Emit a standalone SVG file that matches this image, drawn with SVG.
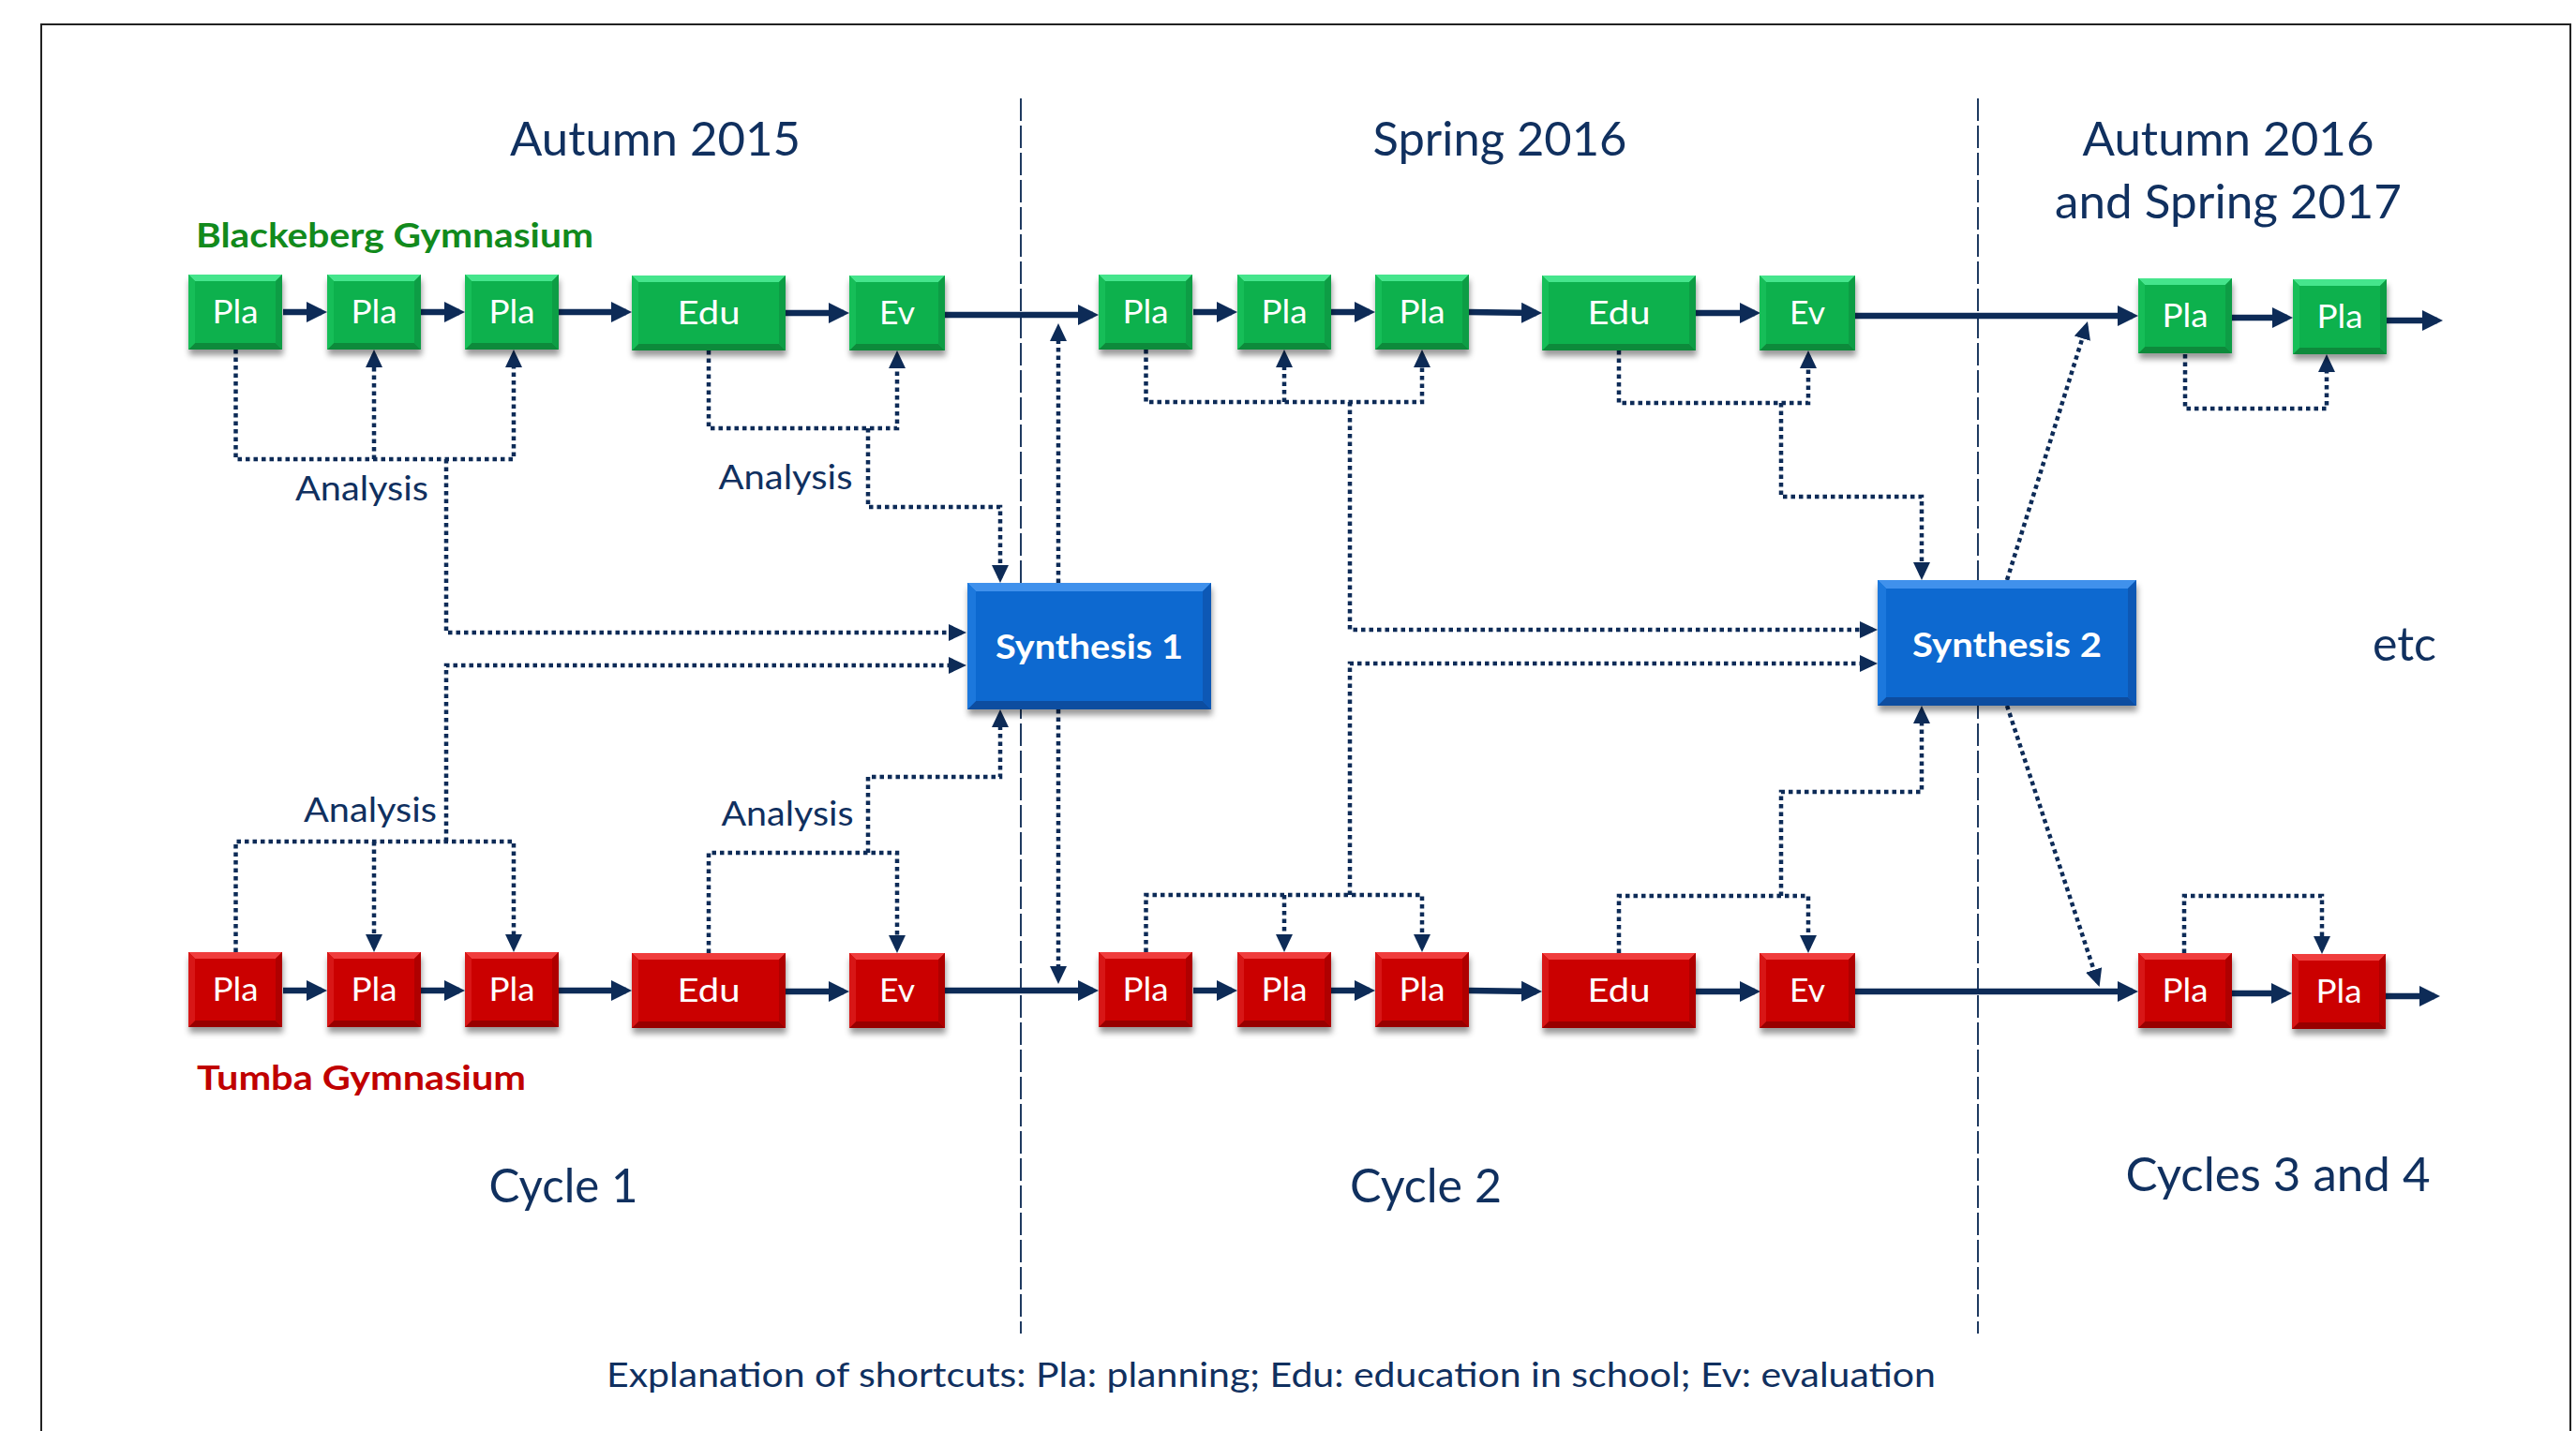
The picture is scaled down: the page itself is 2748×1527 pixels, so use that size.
<svg xmlns="http://www.w3.org/2000/svg" width="2748" height="1527" viewBox="0 0 2748 1527">
<style>
text{font-family:Lato,"Liberation Sans",sans-serif}
.head{font-size:50px;fill:#10305F;text-anchor:middle}
.an{font-size:36px;fill:#10305F;text-anchor:middle}
.bx{font-size:34px;fill:#fff;text-anchor:middle}
.syn{font-size:36px;font-weight:bold;fill:#fff;text-anchor:middle}
.lg{font-size:36px;font-weight:bold;fill:#128A1C}
.lr{font-size:36px;font-weight:bold;fill:#C00000}
.exp{font-size:37px;fill:#10305F;text-anchor:middle}
.gm{fill:#10B14E}.gt{fill:#45E58C}.gb{fill:#0A8A3B}.gl{fill:#19BE58}.gr{fill:#0A9D45}
.rm{fill:#CB0000}.rt{fill:#F03E3E}.rb{fill:#980000}.rl{fill:#D81212}.rr{fill:#AF0000}
.bm{fill:#0A69D0}.bt{fill:#3F91EC}.bb{fill:#0A4EA0}.bl{fill:#1A78DD}.br{fill:#0859B5}
.main{fill:none;stroke:#0D2B57;stroke-width:6.5;marker-end:url(#ah)}
.dota{fill:none;stroke:#0D2B57;stroke-width:4.5;stroke-dasharray:4.5 4;marker-end:url(#dh)}
.sep{stroke:#1F3A60;stroke-width:2;stroke-dasharray:24 5}
</style>
<defs>
<filter id="sh" x="-10%" y="-10%" width="130%" height="140%">
<feDropShadow dx="1" dy="6" stdDeviation="3" flood-color="#000" flood-opacity="0.4"/>
</filter>
<marker id="ah" markerUnits="userSpaceOnUse" markerWidth="24" markerHeight="24" viewBox="0 0 24 24" refX="16" refY="11" orient="auto"><path d="M0 0L22 11L0 22Z" fill="#0D2B57"/></marker>
<marker id="dh" markerUnits="userSpaceOnUse" markerWidth="20" markerHeight="20" viewBox="0 0 20 20" refX="14" refY="9" orient="auto"><path d="M0 0L19 9L0 18Z" fill="#0D2B57"/></marker>
<g id="gPla"><rect width="100" height="80" class="gm"/><path class="gt" d="M0 0H100L93 7H7Z"/><path class="gb" d="M0 80H100L93 73H7Z"/><path class="gl" d="M0 0L7 7V73L0 80Z"/><path class="gr" d="M100 0L93 7V73L100 80Z"/></g>
<g id="gEdu"><rect width="164" height="80" class="gm"/><path class="gt" d="M0 0H164L157 7H7Z"/><path class="gb" d="M0 80H164L157 73H7Z"/><path class="gl" d="M0 0L7 7V73L0 80Z"/><path class="gr" d="M164 0L157 7V73L164 80Z"/></g>
<g id="gEv"><rect width="102" height="80" class="gm"/><path class="gt" d="M0 0H102L95 7H7Z"/><path class="gb" d="M0 80H102L95 73H7Z"/><path class="gl" d="M0 0L7 7V73L0 80Z"/><path class="gr" d="M102 0L95 7V73L102 80Z"/></g>
<g id="rPla"><rect width="100" height="80" class="rm"/><path class="rt" d="M0 0H100L93 7H7Z"/><path class="rb" d="M0 80H100L93 73H7Z"/><path class="rl" d="M0 0L7 7V73L0 80Z"/><path class="rr" d="M100 0L93 7V73L100 80Z"/></g>
<g id="rEdu"><rect width="164" height="80" class="rm"/><path class="rt" d="M0 0H164L157 7H7Z"/><path class="rb" d="M0 80H164L157 73H7Z"/><path class="rl" d="M0 0L7 7V73L0 80Z"/><path class="rr" d="M164 0L157 7V73L164 80Z"/></g>
<g id="rEv"><rect width="102" height="80" class="rm"/><path class="rt" d="M0 0H102L95 7H7Z"/><path class="rb" d="M0 80H102L95 73H7Z"/><path class="rl" d="M0 0L7 7V73L0 80Z"/><path class="rr" d="M102 0L95 7V73L102 80Z"/></g>
</defs>
<rect width="2748" height="1527" fill="#fff"/>
<rect x="44" y="26" width="2698" height="1600" fill="none" stroke="#222" stroke-width="2"/>

<g id="separators">
<line class="sep" x1="1089" y1="105" x2="1089" y2="1423"/>
<line class="sep" x1="2110" y1="105" x2="2110" y2="1423"/>
</g>

<g id="labels">
<text class="head" x="699" y="166" textLength="310" lengthAdjust="spacingAndGlyphs">Autumn 2015</text>
<text class="head" x="1600" y="166" textLength="271" lengthAdjust="spacingAndGlyphs">Spring 2016</text>
<text class="head" x="2377" y="166" textLength="311" lengthAdjust="spacingAndGlyphs">Autumn 2016</text>
<text class="head" x="2377" y="233" textLength="370" lengthAdjust="spacingAndGlyphs">and Spring 2017</text>
<text class="lg" x="209" y="264" textLength="424" lengthAdjust="spacingAndGlyphs">Blackeberg Gymnasium</text>
<text class="lr" x="210" y="1163" textLength="351" lengthAdjust="spacingAndGlyphs">Tumba Gymnasium</text>
<text class="head" x="601" y="1283" textLength="159" lengthAdjust="spacingAndGlyphs">Cycle 1</text>
<text class="head" x="1521" y="1283" textLength="162" lengthAdjust="spacingAndGlyphs">Cycle 2</text>
<text class="head" x="2430" y="1271" textLength="325" lengthAdjust="spacingAndGlyphs">Cycles 3 and 4</text>
<text class="head" x="2565" y="705" textLength="68" lengthAdjust="spacingAndGlyphs">etc</text>
<text class="an" x="386" y="534" textLength="142" lengthAdjust="spacingAndGlyphs">Analysis</text>
<text class="an" x="838" y="522" textLength="143" lengthAdjust="spacingAndGlyphs">Analysis</text>
<text class="an" x="395" y="877" textLength="142" lengthAdjust="spacingAndGlyphs">Analysis</text>
<text class="an" x="840" y="881" textLength="141" lengthAdjust="spacingAndGlyphs">Analysis</text>
<text class="exp" x="1356" y="1480" textLength="1418" lengthAdjust="spacingAndGlyphs">Explanation of shortcuts: Pla: planning; Edu: education in school; Ev: evaluation</text>
</g>

<g id="connectors">
<path class="main" d="M302 333H343"/>
<path class="main" d="M449 333H490"/>
<path class="main" d="M596 333H668"/>
<path class="main" d="M838 334H900"/>
<path class="main" d="M1008 336H1166"/>
<path class="main" d="M1273 333H1314"/>
<path class="main" d="M1420 333H1461"/>
<path class="main" d="M1567 333L1639 334"/>
<path class="main" d="M1809 334H1872"/>
<path class="main" d="M1979 337H2275"/>
<path class="main" d="M2381 339H2440"/>
<path class="main" d="M2546 342H2600"/>
<path class="main" d="M302 1057H343"/>
<path class="main" d="M449 1057H490"/>
<path class="main" d="M596 1057H668"/>
<path class="main" d="M838 1058H900"/>
<path class="main" d="M1008 1057H1166"/>
<path class="main" d="M1273 1057H1314"/>
<path class="main" d="M1420 1057H1461"/>
<path class="main" d="M1567 1057L1639 1058"/>
<path class="main" d="M1809 1058H1872"/>
<path class="main" d="M1979 1058H2275"/>
<path class="main" d="M2381 1060H2439"/>
<path class="main" d="M2545 1063H2597"/>

<path class="dota" d="M251.5 373V490H548V378"/>
<path class="dota" d="M399 490V378"/>
<path class="dota" d="M476 490V675H1026"/>
<path class="dota" d="M476 898V710H1026"/>
<path class="dota" d="M251.5 1016V898H548V1011"/>
<path class="dota" d="M399 898V1011"/>
<path class="dota" d="M756 374V457H957V379"/>
<path class="dota" d="M926 457V541H1067V617"/>
<path class="dota" d="M756 1017V910H957V1012"/>
<path class="dota" d="M926 910V829H1067V762"/>
<path class="dota" d="M1129 622V350"/>
<path class="dota" d="M1129 757V1045"/>
<path class="dota" d="M1222.5 373V429H1517V378"/>
<path class="dota" d="M1370 429V378"/>
<path class="dota" d="M1440 429V672H1998"/>
<path class="dota" d="M1440 955V708H1998"/>
<path class="dota" d="M1222.5 1016V955H1517V1011"/>
<path class="dota" d="M1370 955V1011"/>
<path class="dota" d="M1727 374V430H1929V379"/>
<path class="dota" d="M1900 430V530H2050V614"/>
<path class="dota" d="M1727 1017V956H1929V1012"/>
<path class="dota" d="M1900 956V845H2050V758"/>
<path class="dota" d="M2141 619L2225.5 347.8"/>
<path class="dota" d="M2141 753L2238 1048.3"/>
<path class="dota" d="M2331 378V436H2482V383"/>
<path class="dota" d="M2330 1017V956H2477V1013"/>
</g>

<g id="bg-pla1"><use href="#gPla" x="201" y="293" filter="url(#sh)"/><text class="bx" x="251" y="345" textLength="49" lengthAdjust="spacingAndGlyphs">Pla</text></g>
<g id="bg-pla2"><use href="#gPla" x="349" y="293" filter="url(#sh)"/><text class="bx" x="399" y="345" textLength="49" lengthAdjust="spacingAndGlyphs">Pla</text></g>
<g id="bg-pla3"><use href="#gPla" x="496" y="293" filter="url(#sh)"/><text class="bx" x="546" y="345" textLength="49" lengthAdjust="spacingAndGlyphs">Pla</text></g>
<g id="bg-edu1"><use href="#gEdu" x="674" y="294" filter="url(#sh)"/><text class="bx" x="756" y="346" textLength="67" lengthAdjust="spacingAndGlyphs">Edu</text></g>
<g id="bg-ev1"><use href="#gEv" x="906" y="294" filter="url(#sh)"/><text class="bx" x="957" y="346" textLength="38" lengthAdjust="spacingAndGlyphs">Ev</text></g>
<g id="bg-pla4"><use href="#gPla" x="1172" y="293" filter="url(#sh)"/><text class="bx" x="1222" y="345" textLength="49" lengthAdjust="spacingAndGlyphs">Pla</text></g>
<g id="bg-pla5"><use href="#gPla" x="1320" y="293" filter="url(#sh)"/><text class="bx" x="1370" y="345" textLength="49" lengthAdjust="spacingAndGlyphs">Pla</text></g>
<g id="bg-pla6"><use href="#gPla" x="1467" y="293" filter="url(#sh)"/><text class="bx" x="1517" y="345" textLength="49" lengthAdjust="spacingAndGlyphs">Pla</text></g>
<g id="bg-edu2"><use href="#gEdu" x="1645" y="294" filter="url(#sh)"/><text class="bx" x="1727" y="346" textLength="67" lengthAdjust="spacingAndGlyphs">Edu</text></g>
<g id="bg-ev2"><use href="#gEv" x="1877" y="294" filter="url(#sh)"/><text class="bx" x="1928" y="346" textLength="38" lengthAdjust="spacingAndGlyphs">Ev</text></g>
<g id="bg-pla7"><use href="#gPla" x="2281" y="297" filter="url(#sh)"/><text class="bx" x="2331" y="349" textLength="49" lengthAdjust="spacingAndGlyphs">Pla</text></g>
<g id="bg-pla8"><use href="#gPla" x="2446" y="298" filter="url(#sh)"/><text class="bx" x="2496" y="350" textLength="49" lengthAdjust="spacingAndGlyphs">Pla</text></g>

<g id="tg-pla1"><use href="#rPla" x="201" y="1016" filter="url(#sh)"/><text class="bx" x="251" y="1068" textLength="49" lengthAdjust="spacingAndGlyphs">Pla</text></g>
<g id="tg-pla2"><use href="#rPla" x="349" y="1016" filter="url(#sh)"/><text class="bx" x="399" y="1068" textLength="49" lengthAdjust="spacingAndGlyphs">Pla</text></g>
<g id="tg-pla3"><use href="#rPla" x="496" y="1016" filter="url(#sh)"/><text class="bx" x="546" y="1068" textLength="49" lengthAdjust="spacingAndGlyphs">Pla</text></g>
<g id="tg-edu1"><use href="#rEdu" x="674" y="1017" filter="url(#sh)"/><text class="bx" x="756" y="1069" textLength="67" lengthAdjust="spacingAndGlyphs">Edu</text></g>
<g id="tg-ev1"><use href="#rEv" x="906" y="1017" filter="url(#sh)"/><text class="bx" x="957" y="1069" textLength="38" lengthAdjust="spacingAndGlyphs">Ev</text></g>
<g id="tg-pla4"><use href="#rPla" x="1172" y="1016" filter="url(#sh)"/><text class="bx" x="1222" y="1068" textLength="49" lengthAdjust="spacingAndGlyphs">Pla</text></g>
<g id="tg-pla5"><use href="#rPla" x="1320" y="1016" filter="url(#sh)"/><text class="bx" x="1370" y="1068" textLength="49" lengthAdjust="spacingAndGlyphs">Pla</text></g>
<g id="tg-pla6"><use href="#rPla" x="1467" y="1016" filter="url(#sh)"/><text class="bx" x="1517" y="1068" textLength="49" lengthAdjust="spacingAndGlyphs">Pla</text></g>
<g id="tg-edu2"><use href="#rEdu" x="1645" y="1017" filter="url(#sh)"/><text class="bx" x="1727" y="1069" textLength="67" lengthAdjust="spacingAndGlyphs">Edu</text></g>
<g id="tg-ev2"><use href="#rEv" x="1877" y="1017" filter="url(#sh)"/><text class="bx" x="1928" y="1069" textLength="38" lengthAdjust="spacingAndGlyphs">Ev</text></g>
<g id="tg-pla7"><use href="#rPla" x="2281" y="1017" filter="url(#sh)"/><text class="bx" x="2331" y="1069" textLength="49" lengthAdjust="spacingAndGlyphs">Pla</text></g>
<g id="tg-pla8"><use href="#rPla" x="2445" y="1018" filter="url(#sh)"/><text class="bx" x="2495" y="1070" textLength="49" lengthAdjust="spacingAndGlyphs">Pla</text></g>

<g id="synthesis1">
<g filter="url(#sh)">
<rect x="1032" y="622" width="260" height="135" class="bm"/>
<path class="bt" d="M1032 622H1292L1283 631H1041Z"/>
<path class="bb" d="M1032 757H1292L1283 748H1041Z"/>
<path class="bl" d="M1032 622L1041 631V748L1032 757Z"/>
<path class="br" d="M1292 622L1283 631V748L1292 757Z"/>
</g>
<text class="syn" x="1162" y="703" textLength="200" lengthAdjust="spacingAndGlyphs">Synthesis 1</text>
</g>
<g id="synthesis2">
<g filter="url(#sh)">
<rect x="2003" y="619" width="276" height="134" class="bm"/>
<path class="bt" d="M2003 619H2279L2270 628H2012Z"/>
<path class="bb" d="M2003 753H2279L2270 744H2012Z"/>
<path class="bl" d="M2003 619L2012 628V744L2003 753Z"/>
<path class="br" d="M2279 619L2270 628V744L2279 753Z"/>
</g>
<text class="syn" x="2141" y="701" textLength="202" lengthAdjust="spacingAndGlyphs">Synthesis 2</text>
</g>
</svg>
